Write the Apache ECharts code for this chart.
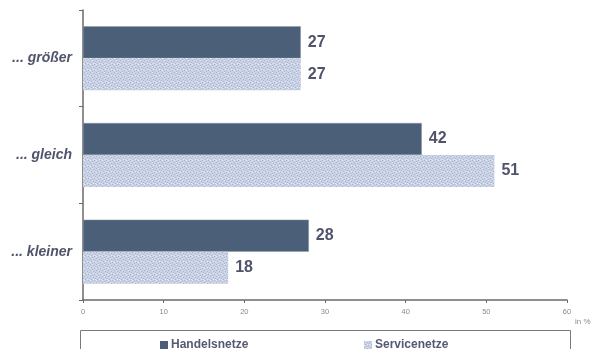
<!DOCTYPE html>
<html>
<head>
<meta charset="utf-8">
<script src="https://cdn.jsdelivr.net/npm/echarts@6/dist/echarts.min.js"></script>
<style>
html,body{margin:0;padding:0;background:#fff;}
#chart{width:593px;height:349px;}
</style>
</head>
<body>
<div id="chart"></div>
<script>
// Categories and values (in %)
const categories = ['... größer', '... gleich', '... kleiner'];
const handelsnetze = [27, 42, 28];
const servicenetze = [27, 51, 18];
const xTicks = [0, 10, 20, 30, 40, 50, 60];

// Stippled light fill: small fixed dot grid on a pale blue base
function stipple() {
  const c = document.createElement('canvas');
  c.width = 6; c.height = 6;
  const g = c.getContext('2d');
  g.fillStyle = '#c9d1e4';
  g.fillRect(0, 0, 6, 6);
  g.fillStyle = '#a9b4cf';
  [[0,0],[3,1],[1,3],[4,4],[2,5],[5,2]].forEach(p => g.fillRect(p[0], p[1], 1, 1));
  g.fillStyle = '#e2e7f1';
  [[2,0],[5,3],[0,4],[3,3]].forEach(p => g.fillRect(p[0], p[1], 1, 1));
  return c;
}

const FONT = 'Liberation Sans, Arial, sans-serif';
const chart = echarts.init(document.getElementById('chart'), null, {renderer: 'canvas'});
const labelStyle = {
  show: true, position: 'right', distance: 7,
  fontFamily: FONT, fontWeight: 'bold', fontSize: 16, color: '#4f546b'
};
const legendText = {fontSize: 12, fontWeight: 'bold', color: '#555a70', fontFamily: FONT, padding: [0,0,0,-2]};
chart.setOption({
  animation: false,
  grid: {left: 83, right: 26, top: 10, bottom: 49, containLabel: false},
  xAxis: {
    type: 'value', min: xTicks[0], max: xTicks[xTicks.length - 1], interval: 10,
    splitLine: {show: false},
    axisLine: {show: true, lineStyle: {color: '#6a6a6a', width: 1.5}},
    axisTick: {show: true, length: 3, lineStyle: {color: '#6a6a6a'}},
    axisLabel: {fontSize: 7.5, color: '#8a8a8a', margin: 8, fontFamily: FONT}
  },
  yAxis: {
    type: 'category', data: categories, inverse: true,
    axisLine: {show: true, lineStyle: {color: '#6a6a6a', width: 1.5}},
    axisTick: {show: true, length: 4, lineStyle: {color: '#6a6a6a'}},
    axisLabel: {
      fontSize: 14, fontStyle: 'italic', fontWeight: 'bold', color: '#4f546b',
      margin: 11, fontFamily: FONT
    }
  },
  legend: [
    {
      data: ['Handelsnetze'], left: 155, top: 334, icon: 'rect',
      itemWidth: 8, itemHeight: 8, selectedMode: false,
      itemStyle: {borderWidth: 0}, textStyle: legendText
    },
    {
      data: ['Servicenetze'], left: 359, top: 334, icon: 'rect',
      itemWidth: 8, itemHeight: 8, selectedMode: false,
      itemStyle: {borderWidth: 0}, textStyle: legendText
    }
  ],
  graphic: [
    {type: 'rect', shape: {x: 80.5, y: 330.5, width: 490, height: 40},
     style: {fill: 'none', stroke: '#7a7a7a', lineWidth: 1}},
    {type: 'text', left: 575, top: 318,
     style: {text: 'in %', fontSize: 8, fill: '#8a8a8a', fontFamily: FONT}}
  ],
  series: [
    {
      name: 'Handelsnetze', type: 'bar', data: handelsnetze,
      barWidth: 32, barGap: '0%',
      itemStyle: {color: '#4b6078', borderColor: '#8c95a6', borderWidth: 0.5},
      label: labelStyle
    },
    {
      name: 'Servicenetze', type: 'bar', data: servicenetze,
      barWidth: 32, barGap: '0%',
      itemStyle: {color: {image: stipple(), repeat: 'repeat'}},
      label: labelStyle
    }
  ]
});
</script>
</body>
</html>
